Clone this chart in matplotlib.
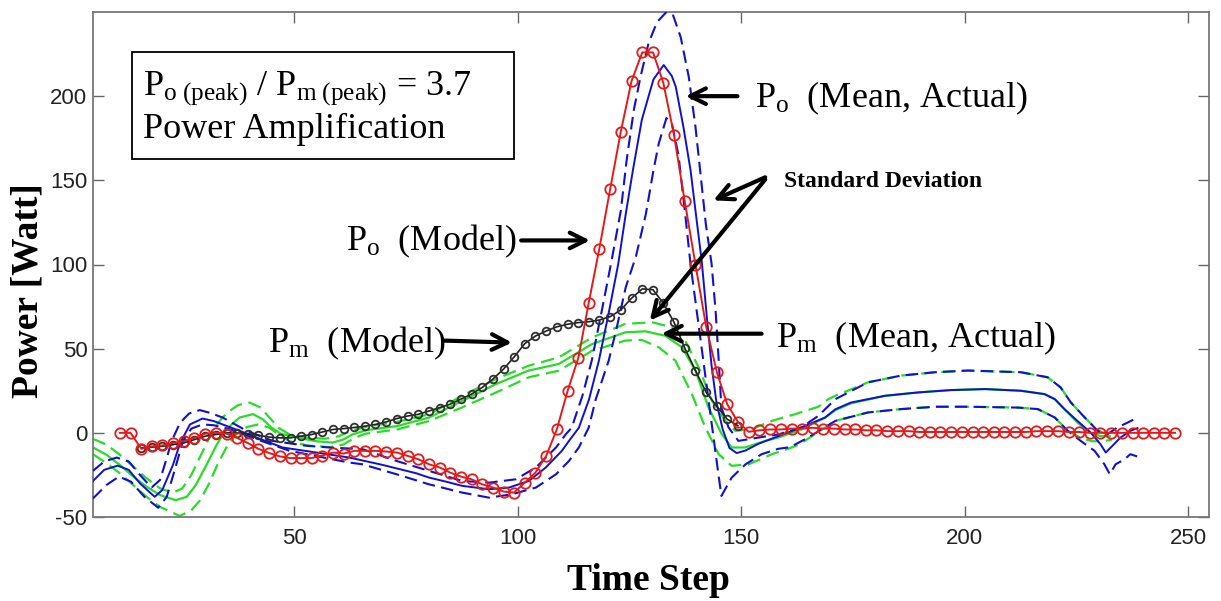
import matplotlib
matplotlib.use('Agg')
import matplotlib.pyplot as plt
from matplotlib.patches import Rectangle

plt.rcParams['font.family'] = ['Liberation Serif', 'DejaVu Serif']
plt.rcParams['mathtext.fontset'] = 'custom'
plt.rcParams['mathtext.rm'] = 'Liberation Serif'
plt.rcParams['mathtext.it'] = 'Liberation Serif:italic'
plt.rcParams['mathtext.bf'] = 'Liberation Serif:bold'
plt.rcParams['axes.unicode_minus'] = False

# ---------------- data ----------------
t_model = [11.0, 13.4, 15.8, 18.2, 20.5, 22.9, 25.3, 27.7, 30.1, 32.5,
           34.9, 37.2, 39.6, 42.0, 44.4, 46.8, 49.2, 51.5, 53.9, 56.3,
           58.7, 61.1, 63.5, 65.9, 68.2, 70.6, 73.0, 75.4, 77.8, 80.2,
           82.6, 84.9, 87.3, 89.7, 92.1, 94.5, 96.9, 99.2, 101.6, 104.0,
           106.4, 108.8, 111.2, 113.6, 115.9, 118.3, 120.7, 123.1, 125.5, 127.9,
           130.3, 132.6, 135.0, 137.4, 139.8, 142.2, 144.6, 146.9, 149.3, 151.7,
           154.1, 156.5, 158.9, 161.3, 163.6, 166.0, 168.4, 170.8, 173.2, 175.6,
           178.0, 180.3, 182.7, 185.1, 187.5, 189.9, 192.3, 194.6, 197.0, 199.4,
           201.8, 204.2, 206.6, 208.9, 211.3, 213.7, 216.1, 218.5, 220.9, 223.3,
           225.6, 228.0, 230.4, 232.8, 235.2, 237.6, 240.0, 242.3, 244.7, 247.1]

po_model = [0, 0, -9.5, -8, -7.5, -6, -5, -3, -0.5, 0,
            -0.5, -3, -6, -9.5, -12, -14, -15, -15, -15, -13.5,
            -11.7, -12.3, -10.7, -10.7, -10.7, -11.1, -11.7, -13.7, -15.7, -18.7,
            -20.6, -23.6, -26, -27.6, -30.6, -32.5, -34.9, -35.5, -29.6, -23.6,
            -13.7, 2.2, 25, 44.6, 77, 109.5, 144.6, 179, 209, 226,
            226, 208, 177, 137.5, 100, 63, 36, 17, 6.5, 0.6,
            1.5, 2, 2, 2.5, 2.5, 3, 2.5, 2.5, 2, 2,
            1.5, 1.5, 1, 1, 1, 0.5, 0.5, 0.5, 0.5, 0.5,
            0.5, 0.5, 0.5, 0.5, 0.5, 0.5, 1, 1, 1, 0.5,
            0.5, 0, 0, 0, 0, 0, 0, 0, 0, 0]

t_pm_model = t_model[2:59]
pm_model = [-9, -8.5, -8, -7, -6, -4, -2, -1, 0, 0,
            -0.5, -1.5, -2.5, -3, -3, -2, -1, 0.5, 2, 2.5,
            3.2, 4, 5, 6.5, 8.5, 10, 11, 13, 15, 17,
            20, 23, 27, 32, 38, 45, 53, 57.5, 60.5, 63,
            64.5, 65.5, 66, 67, 69, 73, 80, 85.5, 85, 77,
            65.7, 50.4, 37, 24, 15.7, 8.1, 4.2]

t_po_mean = [5, 7.5, 10.5, 13, 15.5, 18.8, 20.5, 22.9, 24.5, 26.7,
             29.5, 32, 35, 38, 41.6, 47.4, 55, 62.4, 69.7, 77.3,
             80.2, 84, 87.6, 93.6, 98.1, 102.5, 106.3, 109.9, 111.5, 113.7,
             116, 118.2, 120.3, 122.5, 124.2, 125.8, 127.8, 130.4, 132.7, 134.5,
             135.4, 137.1, 138.7, 139.8, 141.2, 142.3, 143.4, 144.5, 145.9, 147.4,
             149, 151, 153.9, 158.3, 163.5, 168.8, 171.1, 174.6, 182.2, 189.6,
             197, 204.6, 212.6, 217.9, 220.2, 222.4, 225.3, 228.2, 230.4, 231.6,
             233.1, 234.9, 237.1, 238.7]
po_mean = [-28.6, -22, -19.5, -22, -30, -38, -34, -19, -6, 5,
           8.5, 7, 4, 1, -2.8, -8.7, -11.7, -14.7, -19, -24,
           -26.6, -29, -31.5, -33.5, -32.5, -28.6, -20.6, -10.7, -4.8, 3,
           20, 43, 70, 100, 130, 156, 186, 210, 218.5, 212,
           205.5, 181.7, 156, 132, 102, 70, 40, 18, 2, -9,
           -12, -10.5, -6.5, -2, 3.2, 9.1, 14, 18, 22, 24,
           25.4, 26, 25, 23, 20, 14, 7, 0.2, -6.7, -11.7,
           -7.7, -2.8, 1.2, 2.8]

t_po_up = [5, 7.5, 10.3, 13, 15.5, 18.1, 20, 21.5, 22.6, 24.5,
           26.5, 28.9, 31, 34, 39.4, 45.2, 52.8, 57.9, 65.3, 72.9,
           80.2, 87.6, 93.6, 99.6, 104.1, 108.6, 110.8, 112.1, 114.5, 116.6,
           118.8, 120.9, 123.1, 124.4, 126, 127.5, 129.3, 131.2, 133.3, 134.8,
           136.5, 138.3, 139.8, 141, 142.1, 143.4, 144.3, 145, 145.6, 147.2,
           149.4, 153.9, 158.3, 163.5, 167.3, 171.1, 178.4, 185.8, 193.4, 200.8,
           212.6, 218.6, 221.5, 223.8, 226.9, 229.8, 232, 234.2, 236.5, 238.7]
po_up = [-22.6, -17, -14.7, -17, -25, -32.5, -28, -15, -4.8, 6,
         11.5, 13.5, 12, 9.1, 1.2, -4.8, -7.7, -8.7, -9.7, -16.7,
         -22.6, -28.6, -29.6, -27.6, -20.6, -8.7, -0.8, 3, 22, 43,
         72, 100.5, 132, 162, 191.7, 211.5, 231.5, 244, 250, 248,
         235, 211.5, 181.7, 152, 124.4, 100.5, 72.6, 42.9, 15, 3.2,
         -4.8, -2.8, -1, 3.2, 10.1, 20, 30, 34, 36, 37,
         36, 33, 27, 18, 9.1, 1.2, -0.8, 3.2, 6.1, 9.1]

t_po_lo = [5, 8, 10.8, 13.5, 16.5, 19.6, 21.5, 23.3, 25.1, 27,
           29.5, 32, 35.6, 41.6, 49, 56.3, 62, 65.3, 72.9, 80.2,
           87.6, 93.6, 98.75, 104.1, 108.6, 111.5, 113.7, 115.9, 117.5, 120.4,
           122.2, 124.2, 126.5, 128.7, 130.4, 131.6, 133.3, 134.5, 136, 137.5,
           138.7, 140, 141.2, 142.5, 143.7, 144.7, 145.6, 147.9, 151, 154.6,
           158.3, 161, 165, 171.1, 178.4, 185.8, 193.4, 200.8, 212, 216.4,
           220.2, 223.1, 226, 229.1, 231.3, 232.5, 233.8, 235.8, 237.1, 239.4]
po_lo = [-39, -31, -26, -29, -38, -44.5, -38, -22, -5, 2.5,
         5, 4.5, 2.2, -3.8, -10.7, -14.5, -17.5, -18.7, -24.6, -30.6,
         -35.5, -38.5, -36.5, -32.5, -24.6, -16.7, -8.7, 3, 20, 43,
         62.7, 86.5, 105, 130, 156, 172, 187, 184, 165, 130,
         100, 74, 50, 24, 0, -20, -37.5, -26.6, -18.7, -12.7,
         -9.5, -8.5, -2.8, 7.1, 12.1, 14.1, 15.5, 15.5, 15, 14.1,
         9.1, 1.2, -4.8, -10.7, -18.7, -24.6, -18.7, -15.7, -12.7, -14.7]

t_pm_mean = [5, 8, 11, 14, 17, 20, 23.5, 26, 28, 30.4,
             32.5, 34.1, 36, 37.8, 40.8, 43, 45, 47, 51, 55,
             58.6, 61, 63, 66, 73, 80.2, 87.6, 95.2, 102.5, 109.2,
             116.7, 124.1, 128.6, 133, 136.8, 139.8, 142.7, 145.7, 147.9, 150.9,
             155.4, 158.3, 163.5, 168.8, 171.1, 174.6, 182.2, 189.6, 197, 204.6,
             212.6, 217.9, 220.2, 222.4, 225.3, 228.2, 230.5, 232.5]
pm_mean = [-8.7, -13, -19, -26, -32, -37, -40, -38, -31, -19,
           -8, -0.6, 5, 9.1, 11.1, 8, 3, -0.5, -3, -5,
           -5.8, -4, -1, 1.5, 4, 9.1, 19, 29, 37, 40.9,
           52.8, 59.7, 60.3, 57.7, 50.8, 36.9, 15.1, -0.8, -8.7, -8.7,
           -4.8, -2.8, 2, 9, 13.5, 17.5, 22, 24, 25.4, 26,
           25, 23, 20, 14, 6, 0, -2, -2]

t_pm_up = [5, 8, 11, 14, 17, 20, 22.9, 25, 27, 29,
           31, 33, 35, 37.5, 40, 42.5, 44.5, 46.5, 49, 53,
           57, 60, 63, 67, 73, 80.2, 87.6, 95.2, 102.5, 109.2,
           116.7, 124.1, 130.1, 134.5, 137.5, 140.5, 143.5, 146.5, 148.7, 152.4,
           156.9, 162, 167.3, 169.5, 171.1, 178.4, 185.8, 193.4, 200.8, 212.6,
           218.6, 221.5, 223.8, 226.9, 229.8, 232]
pm_up = [-3.6, -7, -13, -20, -27, -33, -35.5, -33, -25, -14,
         -3, 6, 12, 16.5, 18, 15, 9, 3, -1, -3,
         -3.5, -2, 1.5, 4, 6.5, 11, 22, 32, 39.9, 44.8,
         56.7, 64.7, 65.7, 62.7, 54.8, 38.9, 19, 7.1, 1.2, 2.2,
         7.1, 11, 15.5, 20, 22, 30, 34, 36, 37, 36,
         33, 27, 18, 9.1, 1.5, -1]

t_pm_lo = [5, 8, 11, 14, 17, 20, 24.4, 27, 29, 31,
           33, 35, 37, 39.5, 42, 44.5, 46.5, 49, 53, 58,
           61, 63.5, 66, 73, 80.2, 87.6, 95.2, 102.5, 109.2, 116.7,
           124.1, 127.8, 131.6, 135.3, 139, 142, 145, 147.9, 151.7, 156.9,
           160, 163, 165, 171.1, 178.4, 185.8, 193.4, 200.8, 212, 216.4,
           220.2, 223.1, 226, 228.5, 231, 233]
pm_lo = [-12.7, -18, -24, -31, -38, -44, -49.4, -46, -40, -30,
         -18, -8, -1, 3.5, 5, 3, -1, -5, -7.5, -8.5,
         -7, -3, -0.5, 2, 7, 15.1, 24, 33, 36.9, 48.8,
         54.8, 55.2, 50.8, 42.9, 23, 3.2, -12.7, -19.6, -18.7, -12.7,
         -10, -7, -3.5, 7.1, 12.1, 14.1, 15.5, 15.5, 15, 14.1,
         9.1, 1.2, -3, -5, -5, -4]

x_ticks = [50, 100, 150, 200, 250]
y_ticks = [-50, 0, 50, 100, 150, 200]

# ---------------- figure ----------------
W, H = 1221, 601
fig = plt.figure(figsize=(W / 100, H / 100), dpi=100)
ax = fig.add_axes([93 / W, 1 - 517 / H, (1209 - 93) / W, (517 - 12) / H])

blue = '#1010d0'
green = '#28dc28'
red = '#e41a1a'
dash = (6, 3)

ax.plot(t_pm_up, pm_up, color=green, lw=1.6, dashes=dash, zorder=2)
ax.plot(t_pm_lo, pm_lo, color=green, lw=1.6, dashes=dash, zorder=2)
ax.plot(t_pm_mean, pm_mean, color=green, lw=1.6, zorder=2)

ax.plot(t_po_up, po_up, color=blue, lw=1.5, dashes=dash, zorder=3)
ax.plot(t_po_lo, po_lo, color=blue, lw=1.5, dashes=dash, zorder=3)
ax.plot(t_po_mean, po_mean, color=blue, lw=1.4, zorder=3)

ax.plot(t_pm_model, pm_model, color='#202020', lw=1.2, marker='o', ms=5.5,
        mfc='none', mec='#303030', mew=1.3, zorder=4)
ax.plot(t_model, po_model, color=red, lw=1.4, marker='o', ms=7.5,
        mfc='none', mec=red, mew=1.3, zorder=5)

ax.set_xlim(5, 254.7)
ax.set_ylim(-50, 250)
ax.set_xticks(x_ticks)
ax.set_yticks(y_ticks)
ax.tick_params(direction='in', length=8, width=1, color='#666666',
               top=True, right=True, labelsize=16, labelcolor='#222222')
ax.tick_params(axis='x', pad=8)
ax.tick_params(axis='y', pad=4)
for lbl in ax.get_xticklabels() + ax.get_yticklabels():
    lbl.set_fontfamily('Liberation Sans')
for sp in ax.spines.values():
    sp.set_color('#777777')
    sp.set_linewidth(1.3)

# axis labels
fig.text(28 / W, 1 - 291 / H, 'Power [Watt]', rotation=90, ha='center', va='center',
         fontsize=27, fontweight='bold')
fig.text(648 / W, 1 - 580 / H, 'Time Step', ha='center', va='center',
         fontsize=27, fontweight='bold')

# box with ratio
ax.add_patch(Rectangle((13.7, 162.5), 99.2 - 13.7, 226.2 - 162.5, fill=False,
                       edgecolor='black', lw=1.3, zorder=6))
ax.text(16.2, 200.6, r'P$_{\rm o\ (peak)}$ / P$_{\rm m\ (peak)}$ = 3.7', fontsize=26,
        ha='left', va='baseline', zorder=7)
ax.text(16.2, 175.0, 'Power Amplification', fontsize=26, ha='left', va='baseline', zorder=7)

arrow = dict(arrowstyle='->', lw=3, color='black', mutation_scale=28,
             shrinkA=0, shrinkB=0)

# P_o (Mean, Actual)
ax.text(153.2, 193.5, r'P$_{\rm o}$  (Mean, Actual)', fontsize=26, ha='left', va='baseline')
ax.annotate('', xy=(137.6, 200), xytext=(149.2, 200), arrowprops=arrow, zorder=8)

# Standard deviation
ax.text(159.5, 149.4, 'Standard Deviation', fontsize=17, fontweight='bold',
        ha='left', va='center')
ax.annotate('', xy=(143.8, 138.1), xytext=(155.4, 151.8), arrowprops=arrow, zorder=8)
ax.annotate('', xy=(129.6, 66.7), xytext=(155.4, 150.5), arrowprops=arrow, zorder=8)

# P_o (Model)
ax.text(61.7, 108.3, r'P$_{\rm o}$  (Model)', fontsize=26, ha='left', va='baseline')
ax.annotate('', xy=(116.2, 114.3), xytext=(100.8, 114.3), arrowprops=arrow, zorder=8)

# P_m (Model)
ax.text(44.1, 47.6, r'P$_{\rm m}$  (Model)', fontsize=26, ha='left', va='baseline')
ax.annotate('', xy=(98.75, 53.6), xytext=(83.6, 54.8), arrowprops=arrow, zorder=8)

# P_m (Mean, Actual)
ax.text(157.9, 50.6, r'P$_{\rm m}$  (Mean, Actual)', fontsize=26, ha='left', va='baseline')
ax.annotate('', xy=(132.2, 58.9), xytext=(154.6, 58.9), arrowprops=arrow, zorder=8)

fig.savefig('out.png', dpi=100)
